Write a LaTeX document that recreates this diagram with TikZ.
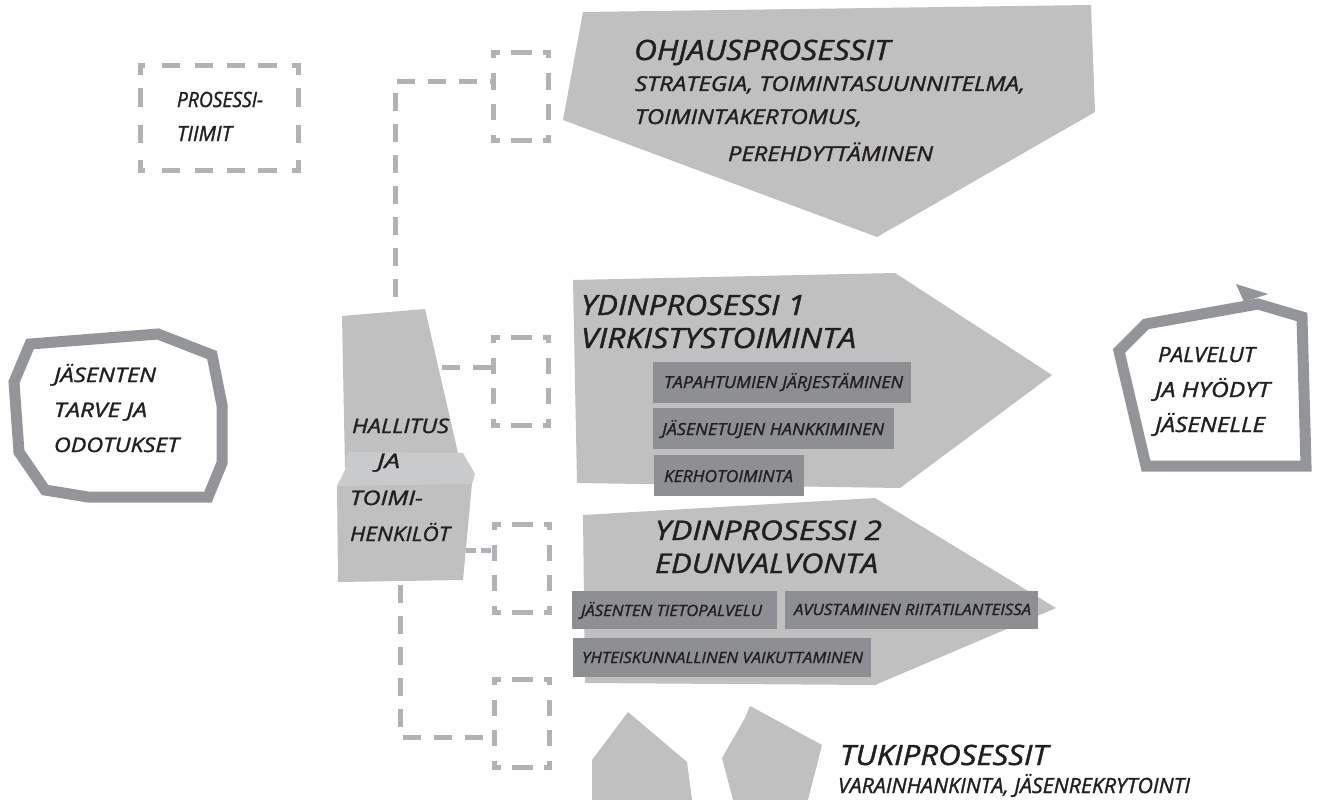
\documentclass[tikz,border=0pt]{standalone}
\usepackage{fontspec}
\setmainfont{Open Sans}
\newfontfamily\diafont{Open Sans}[ItalicFeatures={FakeBold=1.3}]
\usepackage{graphicx}
\usetikzlibrary{calc}
\definecolor{shapefill}{HTML}{C0C0C0}
\definecolor{bandfill}{HTML}{C9CACC}
\definecolor{subfill}{HTML}{8E8F93}
\definecolor{dashcol}{HTML}{B1B2B5}
\definecolor{outlinecol}{HTML}{939598}
\definecolor{txtcol}{HTML}{231F20}
\newsavebox\fitbox
\newcommand\fitw[3]{\sbox\fitbox{\diafont\fontsize{#1}{#1}\selectfont\itshape #3}\pgfmathsetmacro\fitsx{#2/\the\wd\fitbox}\scalebox{\fitsx}[1]{\usebox\fitbox}}
\tikzset{
  txt/.style={anchor=base west, inner sep=0pt, outer sep=0pt, text=txtcol},
  shp/.style={fill=shapefill},
  band/.style={fill=bandfill},
  subbox/.style={fill=subfill},
  dline/.style={draw=dashcol, line width=5pt, dash pattern=on 18pt off 13pt},
  dframe/.style={draw=dashcol, line width=5pt, line cap=rect, line join=miter,
    dash pattern=on 3.5pt off 16pt on 16pt off 16pt on 7pt off 20pt on 11pt off 19pt on 11pt off 20pt on 7pt off 16pt on 16pt off 16pt on 7pt off 20pt on 11pt off 19pt on 11pt off 20pt on 3.5pt off 20pt},
  bigframe/.style={draw=dashcol, line width=5pt, line cap=rect, line join=miter,
    dash pattern=on 2pt off 22pt on 13pt off 20pt on 13pt off 19pt on 13pt off 18pt on 14pt off 20pt on 11pt off 18pt on 14pt off 23pt on 13pt off 22pt on 12pt off 20pt on 14pt off 18pt on 13pt off 19pt on 13pt off 20pt on 13pt off 22pt on 10pt off 22pt on 13pt off 23pt on 14pt off 18pt on 7pt off 20pt},
  slot/.style={minimum width=55pt, minimum height=88pt, inner sep=0pt, outer sep=0pt, draw=none},
  teamslot/.style={minimum width=158pt, minimum height=105pt, inner sep=0pt, outer sep=0pt, draw=none},
  rim/.style={draw=outlinecol, line width=11pt, line join=miter}
}
\begin{document}
\begin{tikzpicture}[x=1pt,y=-1pt]
\useasboundingbox[fill=white] (0,0) rectangle (1317,800);

% ---------- PROSESSITIIMIT dashed box ----------
\node[teamslot] (team) at (219.5,118) {};
\draw[bigframe] (team.north west) -- (team.north east) -- (team.south east) -- (team.south west) -- (team.north west);
\node[txt] (tpro1) at (177,107) {\fitw{21}{86}{PROSESSI-}};
\node[txt] (tpro2) at (177,141) {\fitw{21}{55}{TIIMIT}};

% ---------- Ohjausprosessit ----------
\fill[shp] (583,12) -- (1091,5) -- (1095,112) -- (877,237) -- (563,120) -- cycle;
\node[txt] (toh1) at (634,60) {\fitw{28}{256}{OHJAUSPROSESSIT}};
\node[txt] (toh2) at (635,91) {\fitw{20.5}{390}{STRATEGIA, TOIMINTASUUNNITELMA,}};
\node[txt] (toh3) at (635,124) {\fitw{20.5}{227}{TOIMINTAKERTOMUS,}};
\node[txt] (toh4) at (728,161) {\fitw{20.5}{205}{PEREHDYTTÄMINEN}};

% ---------- Ydinprosessi 1 ----------
\fill[shp] (573,280) -- (895,273) -- (1052,375) -- (900,488) -- (577,483) -- cycle;
\node[txt] (ty11) at (581,315) {\fitw{28}{224}{YDINPROSESSI 1}};
\node[txt] (ty12) at (581,348) {\fitw{28}{275}{VIRKISTYSTOIMINTA}};
\fill[subbox] (653,362) rectangle (911,403);
\fill[subbox] (653,408) rectangle (894,449);
\fill[subbox] (654,455) rectangle (804,496);
\node[txt] (ts11) at (664,388) {\fitw{16.5}{239}{TAPAHTUMIEN JÄRJESTÄMINEN}};
\node[txt] (ts12) at (662,435) {\fitw{16.5}{222}{JÄSENETUJEN HANKKIMINEN}};
\node[txt] (ts13) at (664,482) {\fitw{16.5}{129}{KERHOTOIMINTA}};

% ---------- Ydinprosessi 2 ----------
\fill[shp] (583,515) -- (875,498) -- (1056,608) -- (875,685) -- (585,683) -- cycle;
\node[txt] (ty21) at (655,540) {\fitw{27}{227}{YDINPROSESSI 2}};
\node[txt] (ty22) at (655,573) {\fitw{27}{223}{EDUNVALVONTA}};
\fill[subbox] (572,591) rectangle (777,629);
\fill[subbox] (785,591) rectangle (1038,629);
\fill[subbox] (573,638) rectangle (871,677);
\node[txt] (ts21) at (581,616) {\fitw{15.5}{181}{JÄSENTEN TIETOPALVELU}};
\node[txt] (ts22) at (794,615) {\fitw{15.5}{237}{AVUSTAMINEN RIITATILANTEISSA}};
\node[txt] (ts23) at (582,663) {\fitw{15.5}{281}{YHTEISKUNNALLINEN VAIKUTTAMINEN}};

% ---------- Tukiprosessit ----------
\fill[shp] (592,800) -- (592,760) -- (628,712) -- (687,762) -- (692,800) -- cycle;
\fill[shp] (733,800) -- (722,758) -- (745,718) -- (750,706) -- (822,745) -- (808,800) -- cycle;
\node[txt] (ttu1) at (840,765) {\fitw{28}{208}{TUKIPROSESSIT}};
\node[txt] (ttu2) at (838,793) {\fitw{21}{352}{VARAINHANKINTA, JÄSENREKRYTOINTI}};

% ---------- Hallitus ----------
\fill[shp] (342,316) -- (425,309) -- (458,453) -- (345,467) -- cycle;
\fill[shp] (337,485) -- (472,483) -- (463,580) -- (338,582) -- cycle;
\fill[band] (348,452) -- (463,453) -- (475,474) -- (472,484) -- (337,486) -- (345,470) -- cycle;
\node[txt] (th1) at (352,433) {\fitw{20}{97}{HALLITUS}};
\node[txt] (th2) at (377,468) {\fitw{20}{23}{JA}};
\node[txt] (th3) at (350,505) {\fitw{20}{73}{TOIMI-}};
\node[txt] (th4) at (350,541) {\fitw{20}{100}{HENKILÖT}};

% ---------- small dashed slots ----------
\node[slot] (b1) at (521,96.5) {};
\node[slot] (b2) at (521,381) {};
\node[slot] (b3) at (522,568) {};
\node[slot] (b4) at (522,723) {};
\foreach \b in {b1,b2,b3,b4}{
  \draw[dframe] (\b.north west) -- (\b.north east) -- (\b.south east) -- (\b.south west) -- (\b.north west);
}

% ---------- connectors ----------
\coordinate (hTop) at (395,297);
\coordinate (hR1) at (442,367);
\coordinate (hR2) at (466,550);
\coordinate (hBot) at (400,585);
\draw[dline] (hTop) |- ($(b1.north west)!0.33!(b1.south west)$);
\draw[dline] (hR1) -- (hR1 -| b2.west);
\draw[dline, dash pattern=on 10pt off 5pt] (hR2) -- (hR2 -| b3.west);
\draw[dline] (hBot) |- ($(b4.north west)!0.66!(b4.south west)$);

% ---------- Jasenten tarve ----------
\draw[rim] (30,344) -- (158,334) -- (212,355) -- (222,405) -- (222,463) -- (208,497) -- (88,497) -- (45,490) -- (19,452) -- (14,382) -- cycle;
\node[txt] (tj1) at (54,382) {\fitw{20}{102}{JÄSENTEN}};
\node[txt] (tj2) at (54,417) {\fitw{20}{93}{TARVE JA}};
\node[txt] (tj3) at (54,452) {\fitw{20}{125}{ODOTUKSET}};

% ---------- Palvelut ----------
\draw[rim] (1146,324) -- (1258,304) -- (1302,317) -- (1306,466) -- (1146,466) -- (1119,351) -- cycle;
\fill[outlinecol] (1244,302) -- (1236,284) -- (1268,294) -- cycle;
\node[txt] (tp1) at (1158,362) {\fitw{21}{97}{PALVELUT}};
\node[txt] (tp2) at (1155,397) {\fitw{21}{115}{JA HYÖDYT}};
\node[txt] (tp3) at (1155,432) {\fitw{21}{110}{JÄSENELLE}};
\end{tikzpicture}
\end{document}
